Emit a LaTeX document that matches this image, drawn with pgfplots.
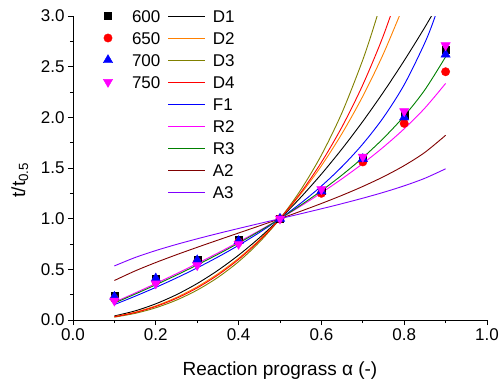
\documentclass[border=0pt]{standalone}
\usepackage{fontspec}
\setmainfont{Liberation Sans}
\usepackage{pgfplots}
\pgfplotsset{compat=1.18}
\definecolor{cD2}{RGB}{255,128,0}
\definecolor{cD3}{RGB}{128,128,0}
\definecolor{cR3}{RGB}{0,128,0}
\definecolor{cA2}{RGB}{128,0,0}
\definecolor{cA3}{RGB}{128,0,255}
\definecolor{cmag}{RGB}{255,0,255}
\begin{document}
\begin{tikzpicture}
\useasboundingbox (-73bp,-65bp) rectangle (428bp,320bp);
\pgfplotsset{
  common/.style={
    at={(0bp,0bp)}, anchor=south west,
    scale only axis, width=414bp, height=304bp,
    xmin=0, xmax=1, ymin=0, ymax=3,
  },
}
\begin{axis}[
  common,
  axis x line*=bottom, axis y line*=left,
  axis line style={-, line width=0.8bp, black},
  xtick={0,0.2,0.4,0.6,0.8,1.0},
  ytick={0,0.5,1,1.5,2,2.5,3},
  minor x tick num=1, minor y tick num=1,
  tick align=outside,
  major tick length=5bp, minor tick length=3bp,
  tick style={black, line width=0.8bp},
  xticklabel style={/pgf/number format/fixed, /pgf/number format/fixed zerofill, /pgf/number format/precision=1},
  yticklabel style={/pgf/number format/fixed, /pgf/number format/fixed zerofill, /pgf/number format/precision=1},
  /pgf/number format/assume math mode=true,
  ticklabel style={font=\fontsize{17bp}{20bp}\selectfont},
  xlabel={Reaction prograss α (-)},
  ylabel={t/t\textsubscript{0.5}},
  every axis x label/.style={font=\fontsize{19bp}{22bp}\selectfont, at={(axis description cs:0.5,-0.18092)}, anchor=base},
  every axis y label/.style={font=\fontsize{19bp}{22bp}\selectfont, at={(axis description cs:-0.11594,0.4605)}, rotate=90, anchor=base},
  legend cell align=left,
  legend image code/.code={\draw[#1] (0bp,0bp) -- (37bp,0bp);},
  legend style={draw=none, fill=none, inner sep=0pt, outer sep=0pt,
    at={(rel axis cs:0.22947,1.03618)}, anchor=north west,
    font=\fontsize{17bp}{20bp}\selectfont,
    row sep=0pt, column sep=7bp,
    nodes={inner xsep=0pt, inner ysep=0pt, text height=17.1bp, text depth=4.9bp}},
  every axis plot/.append style={line width=0.9bp, smooth},
]
\addplot[black] coordinates {(0.10,0.04)(0.15,0.09)(0.20,0.16)(0.25,0.25)(0.30,0.36)(0.35,0.49)(0.40,0.64)(0.45,0.81)(0.50,1.00)(0.55,1.21)(0.60,1.44)(0.65,1.69)(0.70,1.96)(0.75,2.25)(0.80,2.56)(0.85,2.89)(0.90,3.24)};
\addlegendentry{D1}
\addplot[cD2] coordinates {(0.10,0.0337)(0.15,0.0773)(0.20,0.1400)(0.25,0.2232)(0.30,0.3280)(0.35,0.4562)(0.40,0.6094)(0.45,0.7899)(0.50,1)(0.55,1.2428)(0.60,1.5218)(0.65,1.8417)(0.70,2.2083)(0.75,2.6295)(0.80,3.1162)};
\addlegendentry{D2}
\addplot[cD3] coordinates {(0.10,0.0280)(0.15,0.0653)(0.20,0.1207)(0.25,0.1965)(0.30,0.2953)(0.35,0.4204)(0.40,0.5760)(0.45,0.7670)(0.50,1)(0.55,1.2832)(0.60,1.6276)(0.65,2.0485)(0.70,2.5676)(0.73,2.9390)(0.75,3.2174)};
\addlegendentry{D3}
\addplot[red] coordinates {(0.10,0.0317)(0.15,0.0731)(0.20,0.1333)(0.25,0.2139)(0.30,0.3167)(0.35,0.4440)(0.40,0.5981)(0.45,0.7822)(0.50,1)(0.55,1.2560)(0.60,1.5561)(0.65,1.9077)(0.70,2.3210)(0.75,2.8101)(0.80,3.3965)};
\addlegendentry{D4}
\addplot[blue] coordinates {(0.10,0.1520)(0.15,0.2345)(0.20,0.3219)(0.25,0.4150)(0.30,0.5146)(0.35,0.6215)(0.40,0.7370)(0.45,0.8625)(0.50,1)(0.55,1.1520)(0.60,1.3219)(0.65,1.5146)(0.70,1.7370)(0.75,2.0)(0.80,2.3219)(0.85,2.7370)(0.875,3.0)(0.90,3.3219)};
\addlegendentry{F1}
\addplot[cmag] coordinates {(0.10,0.1752)(0.15,0.2665)(0.20,0.3605)(0.25,0.4574)(0.30,0.5577)(0.35,0.6616)(0.40,0.7696)(0.45,0.8822)(0.50,1)(0.55,1.1239)(0.60,1.2549)(0.65,1.3943)(0.70,1.5442)(0.75,1.7071)(0.80,1.8873)(0.85,2.0919)(0.90,2.3345)};
\addlegendentry{R2}
\addplot[cR3] coordinates {(0.10,0.1673)(0.15,0.2556)(0.20,0.3475)(0.25,0.4432)(0.30,0.5434)(0.35,0.6484)(0.40,0.7589)(0.45,0.8758)(0.50,1)(0.55,1.1328)(0.60,1.2758)(0.65,1.4313)(0.70,1.6024)(0.75,1.7937)(0.80,2.0126)(0.85,2.2718)(0.90,2.5974)};
\addlegendentry{R3}
\addplot[cA2] coordinates {(0.10,0.3899)(0.15,0.4842)(0.20,0.5674)(0.25,0.6442)(0.30,0.7173)(0.35,0.7884)(0.40,0.8585)(0.45,0.9287)(0.50,1)(0.55,1.0733)(0.60,1.1498)(0.65,1.2307)(0.70,1.3180)(0.75,1.4142)(0.80,1.5238)(0.85,1.6544)(0.90,1.8226)};
\addlegendentry{A2}
\addplot[cA3] coordinates {(0.10,0.5337)(0.15,0.6166)(0.20,0.6854)(0.25,0.7459)(0.30,0.8013)(0.35,0.8534)(0.40,0.9033)(0.45,0.9519)(0.50,1)(0.55,1.0483)(0.60,1.0975)(0.65,1.1484)(0.70,1.2021)(0.75,1.2599)(0.80,1.3242)(0.85,1.3988)(0.90,1.4921)};
\addlegendentry{A3}
\end{axis}
\begin{axis}[
  common,
  hide axis,
  legend cell align=left,
  legend image code/.code={\path[draw=none,fill=none] (-12bp,-1bp) rectangle (12bp,1bp); \draw[#1] plot coordinates {(0bp,0bp)};},
  legend style={draw=none, fill=none, inner sep=0pt, outer sep=0pt,
    at={(rel axis cs:0.05556,1.03618)}, anchor=north west,
    font=\fontsize{17bp}{20bp}\selectfont,
    row sep=0pt, column sep=12bp,
    nodes={inner xsep=0pt, inner ysep=0pt, text height=17.1bp, text depth=4.9bp}},
]
\addplot[only marks, mark=square*, mark size=3.5bp, mark options={draw=black, fill=black}] coordinates {(0.1,0.24)(0.2,0.41)(0.3,0.60)(0.4,0.79)(0.5,1.0)(0.6,1.28)(0.7,1.595)(0.8,2.03)(0.9,2.665)};
\addlegendentry{600}
\addplot[only marks, mark=*, mark size=4.2bp, mark options={draw=red, fill=red}] coordinates {(0.1,0.21)(0.2,0.38)(0.3,0.57)(0.4,0.77)(0.5,1.0)(0.6,1.25)(0.7,1.56)(0.8,1.94)(0.9,2.45)};
\addlegendentry{650}
\addplot[only marks, mark=triangle*, mark size=5.4bp, mark options={draw=blue, fill=blue}] coordinates {(0.1,0.23)(0.2,0.41)(0.3,0.59)(0.4,0.78)(0.5,1.0)(0.6,1.27)(0.7,1.59)(0.8,2.0)(0.9,2.62)};
\addlegendentry{700}
\addplot[only marks, mark=triangle*, mark size=5.4bp, mark options={draw=cmag, fill=cmag, rotate=180}] coordinates {(0.1,0.19)(0.2,0.36)(0.3,0.54)(0.4,0.75)(0.5,1.0)(0.6,1.29)(0.7,1.61)(0.8,2.06)(0.9,2.71)};
\addlegendentry{750}
\end{axis}
\end{tikzpicture}
\end{document}
